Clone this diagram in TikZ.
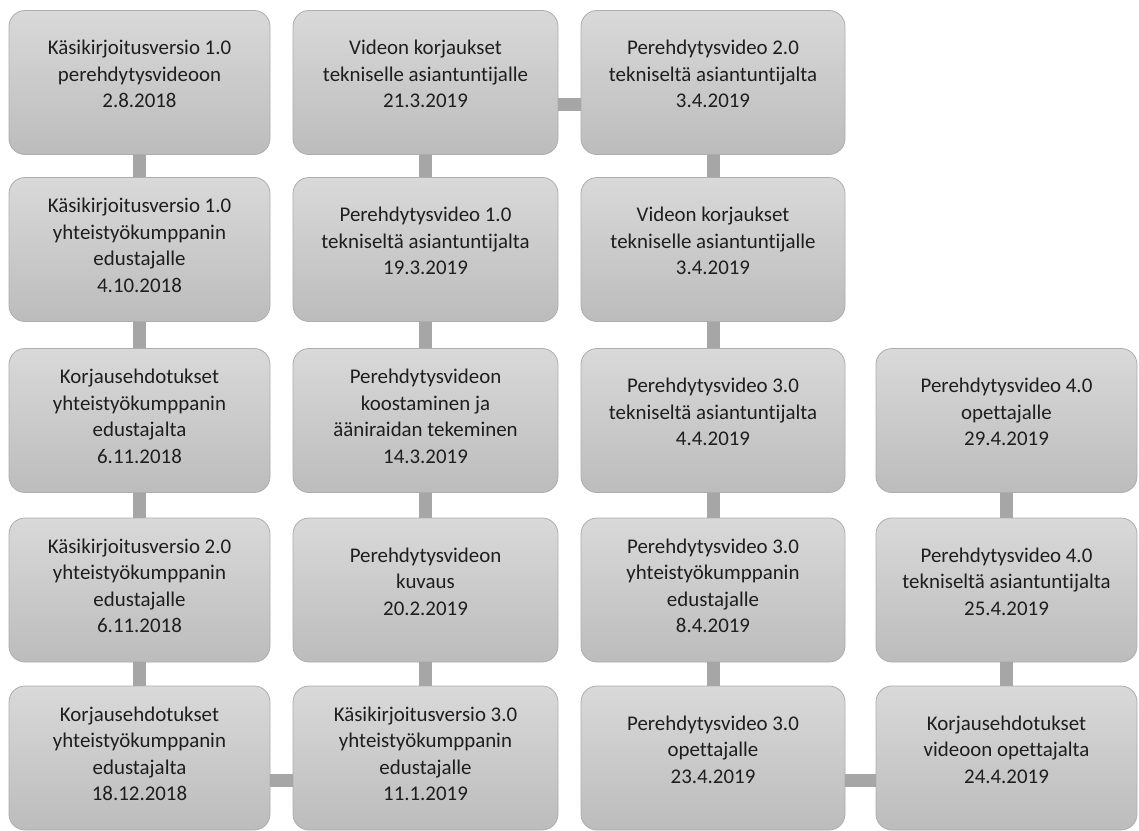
\documentclass[tikz,border=0pt]{standalone}
\usepackage{fontspec}
\setmainfont{Carlito}[Ligatures={NoCommon}]
\definecolor{boxtop}{HTML}{D9D9D9}
\definecolor{boxbot}{HTML}{BCBCBC}
\definecolor{boxline}{HTML}{ADADAD}
\definecolor{connc}{HTML}{A6A6A6}
\definecolor{txtc}{HTML}{1E1E1E}
\begin{document}
\begin{tikzpicture}[x=1pt,y=-1pt,
  box/.style={draw=boxline, line width=0.8pt, rounded corners=16pt,
    top color=boxtop, bottom color=boxbot, minimum height=144pt,
    align=center, text=txtc, inner sep=0pt, text depth=17pt,
    font=\fontsize{20.9}{26.5}\selectfont},
  four/.style={text depth=9pt},
  wA/.style={minimum width=261pt},
  wB/.style={minimum width=265pt},
  wC/.style={minimum width=264pt},
  wD/.style={minimum width=261pt},
  conn/.style={draw=connc, line width=13pt}]
\useasboundingbox[fill=white] (0,0) rectangle (1139,830);
% column 1
\node[box,wA] (a1) at (139.5,82.5) {Käsikirjoitusversio 1.0\\perehdytysvideoon\\2.8.2018};
\node[box,wA,four] (a2) at (139.5,249.5) {Käsikirjoitusversio 1.0\\yhteistyökumppanin\\edustajalle\\4.10.2018};
\node[box,wA,four] (a3) at (139.5,420.5) {Korjausehdotukset\\yhteistyökumppanin\\edustajalta\\6.11.2018};
\node[box,wA,four] (a4) at (139.5,590) {Käsikirjoitusversio 2.0\\yhteistyökumppanin\\edustajalle\\6.11.2018};
\node[box,wA,four] (a5) at (139.5,758) {Korjausehdotukset\\yhteistyökumppanin\\edustajalta\\18.12.2018};
% column 2
\node[box,wB,four] (b5) at (425.5,758) {Käsikirjoitusversio 3.0\\yhteistyökumppanin\\edustajalle\\11.1.2019};
\node[box,wB] (b4) at (425.5,590) {Perehdytysvideon\\kuvaus\\20.2.2019};
\node[box,wB,four] (b3) at (425.5,420.5) {Perehdytysvideon\\koostaminen ja\\ääniraidan tekeminen\\14.3.2019};
\node[box,wB] (b2) at (425.5,249.5) {Perehdytysvideo 1.0\\tekniseltä asiantuntijalta\\19.3.2019};
\node[box,wB] (b1) at (425.5,82.5) {Videon korjaukset\\tekniselle asiantuntijalle\\21.3.2019};
% column 3
\node[box,wC] (c1) at (713,82.5) {Perehdytysvideo 2.0\\tekniseltä asiantuntijalta\\3.4.2019};
\node[box,wC] (c2) at (713,249.5) {Videon korjaukset\\tekniselle asiantuntijalle\\3.4.2019};
\node[box,wC] (c3) at (713,420.5) {Perehdytysvideo 3.0\\tekniseltä asiantuntijalta\\4.4.2019};
\node[box,wC,four] (c4) at (713,590) {Perehdytysvideo 3.0\\yhteistyökumppanin\\edustajalle\\8.4.2019};
\node[box,wC] (c5) at (713,758) {Perehdytysvideo 3.0\\opettajalle\\23.4.2019};
% column 4
\node[box,wD] (d5) at (1006.5,758) {Korjausehdotukset\\videoon opettajalta\\24.4.2019};
\node[box,wD] (d4) at (1006.5,590) {Perehdytysvideo 4.0\\tekniseltä asiantuntijalta\\25.4.2019};
\node[box,wD] (d3) at (1006.5,420.5) {Perehdytysvideo 4.0\\opettajalle\\29.4.2019};
% connectors
\draw[conn] (a1.south) -- (a2.north);
\draw[conn] (a2.south) -- (a3.north);
\draw[conn] (a3.south) -- (a4.north);
\draw[conn] (a4.south) -- (a5.north);
\draw[conn] ([yshift=-22pt]a5.east) -- ([yshift=-22pt]b5.west);
\draw[conn] (b5.north) -- (b4.south);
\draw[conn] (b4.north) -- (b3.south);
\draw[conn] (b3.north) -- (b2.south);
\draw[conn] (b2.north) -- (b1.south);
\draw[conn] ([yshift=-22pt]b1.east) -- ([yshift=-22pt]c1.west);
\draw[conn] (c1.south) -- (c2.north);
\draw[conn] (c2.south) -- (c3.north);
\draw[conn] (c3.south) -- (c4.north);
\draw[conn] (c4.south) -- (c5.north);
\draw[conn] ([yshift=-22pt]c5.east) -- ([yshift=-22pt]d5.west);
\draw[conn] (d5.north) -- (d4.south);
\draw[conn] (d4.north) -- (d3.south);
\end{tikzpicture}
\end{document}
